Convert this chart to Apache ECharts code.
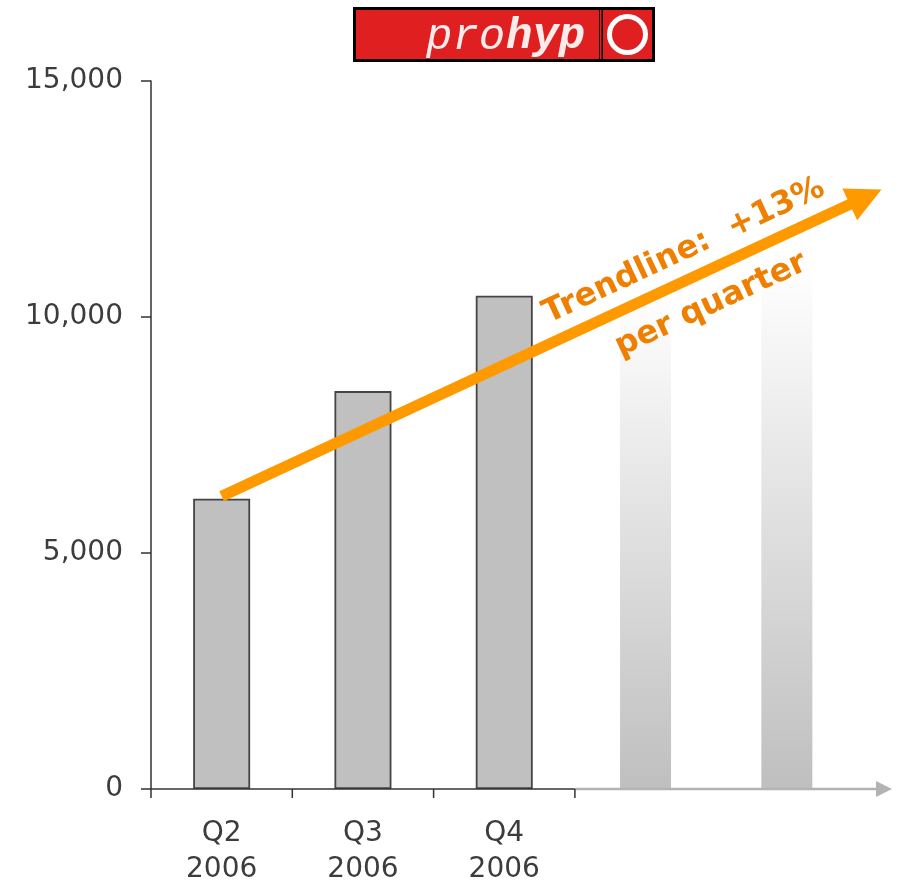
<!DOCTYPE html>
<html>
<head>
<meta charset="utf-8">
<script src="https://cdn.jsdelivr.net/npm/echarts@6/dist/echarts.min.js"></script>
<style>
  html, body { margin: 0; padding: 0; background: #ffffff; }
  #chart { width: 899px; height: 888px; }
</style>
</head>
<body>
<div id="chart"></div>
<script>
// Quarterly volumes (reported quarters)
const categories = ['Q2\n2006', 'Q3\n2006', 'Q4\n2006', '', ''];
const volumes = [6150, 8430, 10450];

// Outlook bars for the following quarters (faded)
const outlookPositions = [3, 4];
const outlookVolumes = [10500, 11100];

// Value axis ticks
const yMin = 0;
const yMax = 15000;
const yStep = 5000;

// Trend arrow: start point and arrow tip in (category position, value)
const trendStart = [0, 6200];
const trendEnd = [4.67, 12700];
const trendTitle = 'Trendline:  +13%';
const trendSubtitle = 'per quarter';

const chart = echarts.init(document.getElementById('chart'), null, { renderer: 'canvas' });

const axisDark = '#333333';
const labelColor = '#3c3c3c';
const orange = '#FF9900';
const orangeText = '#EE7F00';
const labelFont = '"DejaVu Sans", Verdana, sans-serif';

const fadedFill = new echarts.graphic.LinearGradient(0, 0, 0, 1, [
  { offset: 0, color: '#ffffff' },
  { offset: 1, color: '#bfbfbf' }
]);

// Thick arrow from the first to the second point of a data item
function renderTrendArrow(params, api) {
  const a = api.coord([api.value(0), api.value(1)]);
  const b = api.coord([api.value(2), api.value(3)]);
  const dx = b[0] - a[0];
  const dy = b[1] - a[1];
  const len = Math.sqrt(dx * dx + dy * dy);
  const ux = dx / len, uy = dy / len;
  const nx = -uy, ny = ux;
  const headLen = 35, headHalf = 17.5;
  const base = [b[0] - ux * headLen, b[1] - uy * headLen];
  return {
    type: 'group',
    children: [
      {
        type: 'line',
        shape: { x1: a[0], y1: a[1], x2: base[0] + ux * 2, y2: base[1] + uy * 2 },
        style: { stroke: orange, lineWidth: 11, lineCap: 'butt' }
      },
      {
        type: 'polygon',
        shape: {
          points: [
            b,
            [base[0] + nx * headHalf, base[1] + ny * headHalf],
            [base[0] - nx * headHalf, base[1] - ny * headHalf]
          ]
        },
        style: { fill: orange }
      }
    ]
  };
}

chart.setOption({
  animation: false,
  backgroundColor: '#ffffff',
  grid: { left: 151, top: 81, width: 706.5, bottom: 97, containLabel: false },
  xAxis: [
    {
      type: 'category',
      data: categories,
      axisLine: { show: false },
      axisTick: { show: false },
      axisLabel: {
        color: labelColor,
        fontFamily: labelFont,
        fontSize: 28,
        lineHeight: 36,
        margin: 27,
        interval: 0
      },
      splitLine: { show: false }
    },
    {
      type: 'value',
      min: -0.5,
      max: 4.5,
      show: false
    }
  ],
  yAxis: {
    type: 'value',
    min: yMin,
    max: yMax,
    interval: yStep,
    axisLine: { show: true, onZero: false, lineStyle: { color: axisDark, width: 1.5 } },
    axisTick: { show: true, length: 10, lineStyle: { color: axisDark, width: 1.5 } },
    axisLabel: {
      color: labelColor,
      fontFamily: labelFont,
      fontSize: 28,
      margin: 28,
      formatter: v => v.toLocaleString('en-US')
    },
    splitLine: { show: false }
  },
  series: [
    {
      name: 'Volume',
      type: 'bar',
      xAxisIndex: 0,
      data: volumes,
      barWidth: 57,
      itemStyle: { color: '#c0c0c0', borderColor: '#454545', borderWidth: 1.8 },
      silent: true
    },
    {
      name: 'Outlook',
      type: 'bar',
      xAxisIndex: 1,
      data: outlookPositions.map((p, i) => [p, outlookVolumes[i]]),
      barWidth: 51,
      itemStyle: { color: fadedFill },
      silent: true
    },
    {
      name: 'Trend',
      type: 'custom',
      xAxisIndex: 1,
      yAxisIndex: 0,
      clip: false,
      silent: true,
      z: 4,
      renderItem: renderTrendArrow,
      encode: { x: [0, 2], y: [1, 3] },
      data: [[trendStart[0], trendStart[1], trendEnd[0], trendEnd[1]]]
    }
  ]
});

// Axis line, ticks, arrow, trend text and logo
function px(x, y) {
  return chart.convertToPixel({ xAxisIndex: 1, yAxisIndex: 0 }, [x, y]);
}
const origin = px(-0.5, 0);
const lastTick = px(2.5, 0);
const tickXs = [-0.5, 0.5, 1.5, 2.5].map(v => px(v, 0)[0]);
const arrowTip = 892;

const pStart = px(...trendStart);
const pEnd = px(...trendEnd);
const angle = Math.atan2(pStart[1] - pEnd[1], pEnd[0] - pStart[0]);

const captionFont = 'bold 32px "DejaVu Sans", Verdana, sans-serif';

const graphics = [
  // grey continuation of the time axis
  {
    type: 'line',
    shape: { x1: lastTick[0], y1: origin[1], x2: arrowTip - 14, y2: origin[1] },
    style: { stroke: '#b3b3b3', lineWidth: 2.5 },
    z: 5
  },
  {
    type: 'polygon',
    shape: { points: [[arrowTip, origin[1]], [arrowTip - 16, origin[1] - 8], [arrowTip - 16, origin[1] + 8]] },
    style: { fill: '#b3b3b3' },
    z: 5
  },
  // black part of the time axis
  {
    type: 'line',
    shape: { x1: origin[0], y1: origin[1], x2: lastTick[0], y2: origin[1] },
    style: { stroke: axisDark, lineWidth: 1.5 },
    z: 6
  },
  ...tickXs.map(x => ({
    type: 'line',
    shape: { x1: x, y1: origin[1], x2: x, y2: origin[1] + 9 },
    style: { stroke: axisDark, lineWidth: 1.5 },
    z: 6
  })),
  // trend captions
  {
    type: 'text',
    x: 684, y: 251,
    rotation: angle,
    style: { text: trendTitle, font: captionFont, fill: orangeText, align: 'center', verticalAlign: 'middle' },
    z: 10
  },
  {
    type: 'text',
    x: 711, y: 305,
    rotation: angle,
    style: { text: trendSubtitle, font: captionFont, fill: orangeText, align: 'center', verticalAlign: 'middle' },
    z: 10
  },
  // logo
  {
    type: 'group',
    z: 10,
    children: [
      { type: 'rect', shape: { x: 353, y: 7, width: 302, height: 55 }, style: { fill: '#000000' } },
      { type: 'rect', shape: { x: 356, y: 10, width: 243, height: 49 }, style: { fill: '#e02020' } },
      { type: 'rect', shape: { x: 600, y: 10, width: 1.5, height: 49 }, style: { fill: '#e02020' } },
      { type: 'rect', shape: { x: 603, y: 10, width: 49, height: 49 }, style: { fill: '#e02020' } },
      { type: 'circle', shape: { cx: 627.5, cy: 34.5, r: 18 }, style: { fill: 'none', stroke: '#ffffff', lineWidth: 5 } },
      {
        type: 'text', x: 426, y: 37,
        style: { text: 'pro', font: 'italic 44px "Liberation Mono", "Courier New", monospace', fill: '#fbecec', align: 'left', verticalAlign: 'middle' }
      },
      {
        type: 'text', x: 506, y: 37,
        style: { text: 'hyp', font: 'italic bold 44px "Liberation Mono", "Courier New", monospace', fill: '#fbecec', align: 'left', verticalAlign: 'middle' }
      }
    ]
  }
];

chart.setOption({ graphic: graphics });
</script>
</body>
</html>
